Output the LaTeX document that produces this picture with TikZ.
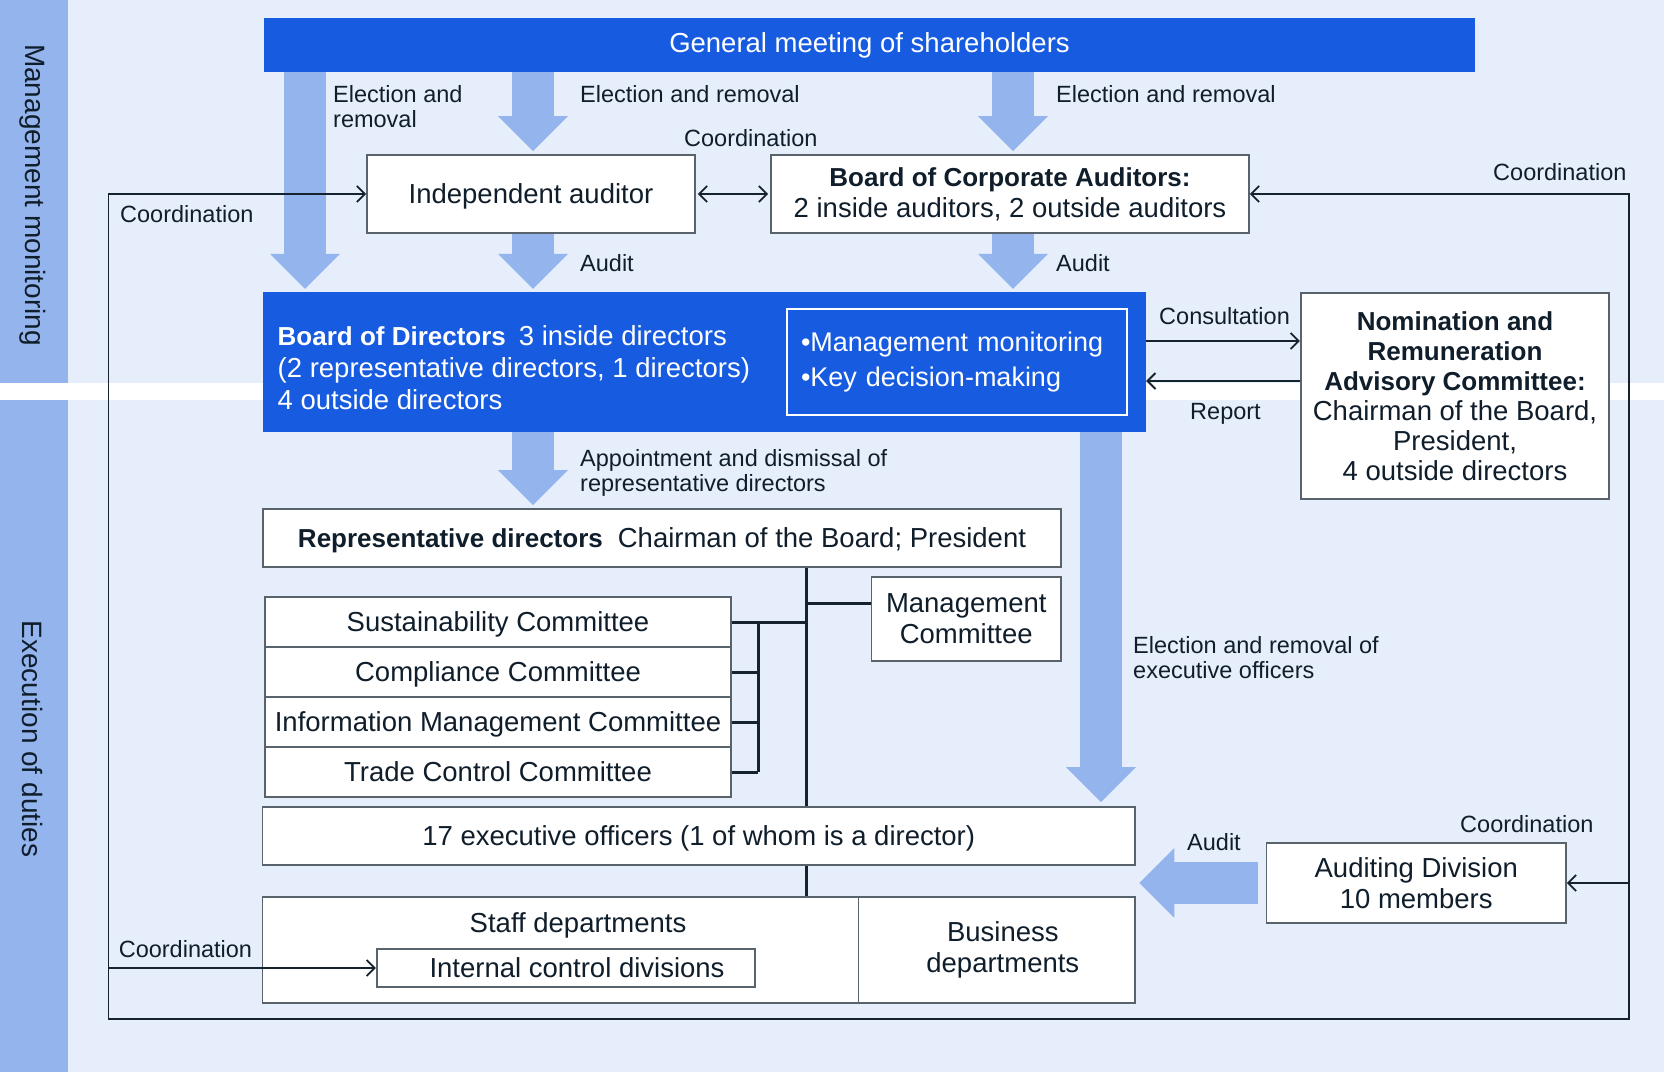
\documentclass[tikz,border=0pt]{standalone}
\usepackage{fontspec}
\setmainfont{Liberation Sans}
\usetikzlibrary{arrows.meta,calc}

\definecolor{pagebg}{HTML}{E7EEFB}
\definecolor{lightblue}{HTML}{94B4EE}
\definecolor{mainblue}{HTML}{165BE0}
\definecolor{boxline}{HTML}{59636B}
\definecolor{darkline}{HTML}{15232F}
\definecolor{ink}{HTML}{101E2B}

\newcommand{\txtL}{\fontsize{27.5pt}{31pt}\selectfont}
\newcommand{\txtS}{\fontsize{23.5pt}{25.5pt}\selectfont}
\newcommand{\hb}[1]{{\fontsize{26pt}{31pt}\selectfont\bfseries #1}}

\begin{document}
\begin{tikzpicture}[x=1pt, y=-1pt,
  box/.style={draw=boxline, line width=1.8pt, fill=white, text=ink, font=\txtL, align=center, inner sep=0pt},
  boxone/.style={box, text depth=0pt},
  lbl/.style={anchor=north west, inner sep=0pt, font=\txtS, text=ink, align=left},
  fat/.style={draw=lightblue, line width=42pt, -{Triangle[length=35pt,width=70pt,line width=0pt]}},
  conn/.style={draw=darkline, line width=1.8pt},
  barb/.style={-{Straight Barb[length=8pt,width=16pt]}},
  barbs/.style={{Straight Barb[length=8pt,width=16pt]}-{Straight Barb[length=8pt,width=16pt]}},
  trunk/.style={draw=darkline, line width=3pt}]
  \useasboundingbox (0,0) rectangle (1664,1072);
  \fill[pagebg] (0,0) rectangle (1664,1072);
  \fill[lightblue] (0,0) rectangle (68,1072);
  \fill[white] (0,383) rectangle (1664,400);
  \node[rotate=-90, font=\fontsize{28pt}{30pt}\selectfont, text=ink] (mm) at (33,195) {Management monitoring};
  \node[rotate=-90, font=\fontsize{28pt}{30pt}\selectfont, text=ink] (ed) at (33,739) {Execution of duties};

  \node[fill=mainblue, text=white, font=\txtL, inner sep=0pt, minimum width=1211pt, minimum height=54pt] (gms) at (869.5,45) {General meeting of shareholders};
  \node[boxone, minimum width=328pt, minimum height=78pt] (ia) at (531,194) {Independent auditor};
  \node[box, minimum width=478pt, minimum height=78pt] (bca) at (1010,194) {\hb{Board of Corporate Auditors:}\\2 inside auditors, 2 outside auditors};
  \node[fill=mainblue, inner sep=0pt, minimum width=883.5pt, minimum height=140pt] (bod) at (704.25,362) {};
  \node[anchor=north west, inner sep=0pt, text=white, font=\txtL, align=left] (bodtxt) at (277.5,325) {\hb{Board of Directors}\hspace{13pt}3 inside directors\\[1pt](2 representative directors, 1 directors)\\[1pt]4 outside directors};
  \node[draw=white, line width=1.5pt, fill=mainblue, text=white, font=\fontsize{27pt}{31pt}\selectfont, align=left, text width=312pt, inner xsep=14pt, inner ysep=0pt, minimum width=340pt, minimum height=106pt] (duty) at (957,362) {\textbullet Management monitoring\\[4pt]\textbullet Key decision-making};
  \node[box, minimum width=308.5pt, minimum height=206pt, font=\fontsize{27.5pt}{30pt}\selectfont] (nrac) at (1455,396) {\hb{Nomination and}\\\hb{Remuneration}\\\hb{Advisory Committee:}\\Chairman of the Board,\\President,\\4 outside directors};
  \node[boxone, minimum width=798pt, minimum height=58pt] (rep) at (662,538) {\hb{Representative directors}\hspace{15pt}Chairman of the Board; President};
  \node[box, minimum width=189.5pt, minimum height=84pt] (mc) at (966.25,619) {Management\\Committee};
  \node[boxone, minimum width=466pt, minimum height=50pt] (com1) at (498,622) {Sustainability Committee};
  \node[boxone, minimum width=466pt, minimum height=50pt] (com2) at (498,672) {Compliance Committee};
  \node[boxone, minimum width=466pt, minimum height=50pt] (com3) at (498,722) {Information Management Committee};
  \node[boxone, minimum width=466pt, minimum height=50pt] (com4) at (498,772) {Trade Control Committee};
  \node[boxone, minimum width=872.5pt, minimum height=58pt] (exec) at (698.75,836) {17 executive officers (1 of whom is a director)};
  \node[box, minimum width=596pt, minimum height=106pt] (staff) at (560.5,950) {};
  \node[anchor=base, font=\txtL, text=ink, inner sep=0pt] (stafftxt) at (578,932) {Staff departments};
  \node[boxone, minimum width=378.5pt, minimum height=38pt] (icd) at (566,968) {\hspace{22pt}Internal control divisions};
  \node[box, minimum width=276.5pt, minimum height=106pt] (bus) at (996.8,950) {\hspace{12pt}Business\\\hspace{12pt}departments};
  \node[box, minimum width=299.5pt, minimum height=80pt] (ad) at (1416.25,883) {Auditing Division\\10 members};

  \coordinate (colA) at (305,0);
  \coordinate (colB) at (533,0);
  \coordinate (colC) at (1013,0);
  \coordinate (colD) at (1101,0);
  \draw[fat, shorten >=3pt] (gms.south -| colA) -- (bod.north -| colA);
  \draw[fat, shorten >=3pt] (gms.south -| colB) -- (ia.north -| colB);
  \draw[fat, shorten >=3pt] (gms.south -| colC) -- (bca.north -| colC);
  \draw[fat, shorten >=3pt] (ia.south -| colB) -- (bod.north -| colB);
  \draw[fat, shorten >=3pt] (bca.south -| colC) -- (bod.north -| colC);
  \draw[fat, shorten >=3pt] (bod.south -| colB) -- (rep.north -| colB);
  \draw[fat, shorten >=4pt] (bod.south -| colD) -- (exec.north -| colD);
  \draw[fat, shorten <=8pt, shorten >=3.5pt] (ad.west) -- (ad.west -| exec.east);

  \coordinate (fbl) at (108.5,1019);
  \coordinate (fbr) at (1629,1019);
  \draw[conn, barbs] (ia.west) -| (fbl) -- (fbr) |- (bca.east);
  \draw[conn, barb] (icd.west -| fbl) -- (icd.west);
  \draw[conn, barb] (ad.east -| fbr) -- (ad.east);
  \draw[conn, barbs, shorten <=2pt, shorten >=2pt] (ia.east) -- (bca.west);
  \draw[conn, barb] ([yshift=21pt]bod.east) -- ([yshift=21pt]bod.east -| nrac.west);
  \draw[conn, barb] ([yshift=-19pt]nrac.west |- bod.east) -- ([yshift=-19pt]bod.east);

  \coordinate (spine) at (806.5,0);
  \coordinate (brk) at (758,0);
  \draw[trunk] (rep.south -| spine) -- (exec.north -| spine);
  \draw[trunk] (exec.south -| spine) -- (staff.north -| spine);
  \draw[trunk] ([yshift=16pt]mc.west) -- ([yshift=16pt]mc.west -| spine);
  \draw[trunk] (com1.east) -- (com1.east -| spine);
  \draw[trunk] (com1.east -| brk) -- (com4.east -| brk);
  \draw[trunk] (com2.east) -- (com2.east -| brk);
  \draw[trunk] (com3.east) -- (com3.east -| brk);
  \draw[trunk] (com4.east) -- (com4.east -| brk);

  \node[lbl] (er1) at (333,85) {Election and\\removal};
  \node[lbl] (er2) at (580,85) {Election and removal};
  \node[lbl] (er3) at (1056,85) {Election and removal};
  \node[lbl] (co1) at (684,129) {Coordination};
  \node[lbl] (co2) at (120,205) {Coordination};
  \node[lbl] (co3) at (1493,163) {Coordination};
  \node[lbl] (au1) at (580,254) {Audit};
  \node[lbl] (au2) at (1056,254) {Audit};
  \node[lbl] (cons) at (1159,307) {Consultation};
  \node[lbl] (rpt) at (1190,403) {Report};
  \node[lbl] (appt) at (580,449) {Appointment and dismissal of\\representative directors};
  \node[lbl] (erx) at (1133,636) {Election and removal of\\executive officers};
  \node[lbl] (au3) at (1187,833) {Audit};
  \node[lbl] (co4) at (1460,815) {Coordination};
  \node[lbl] (co5) at (118.6,940) {Coordination};
\end{tikzpicture}
\end{document}
